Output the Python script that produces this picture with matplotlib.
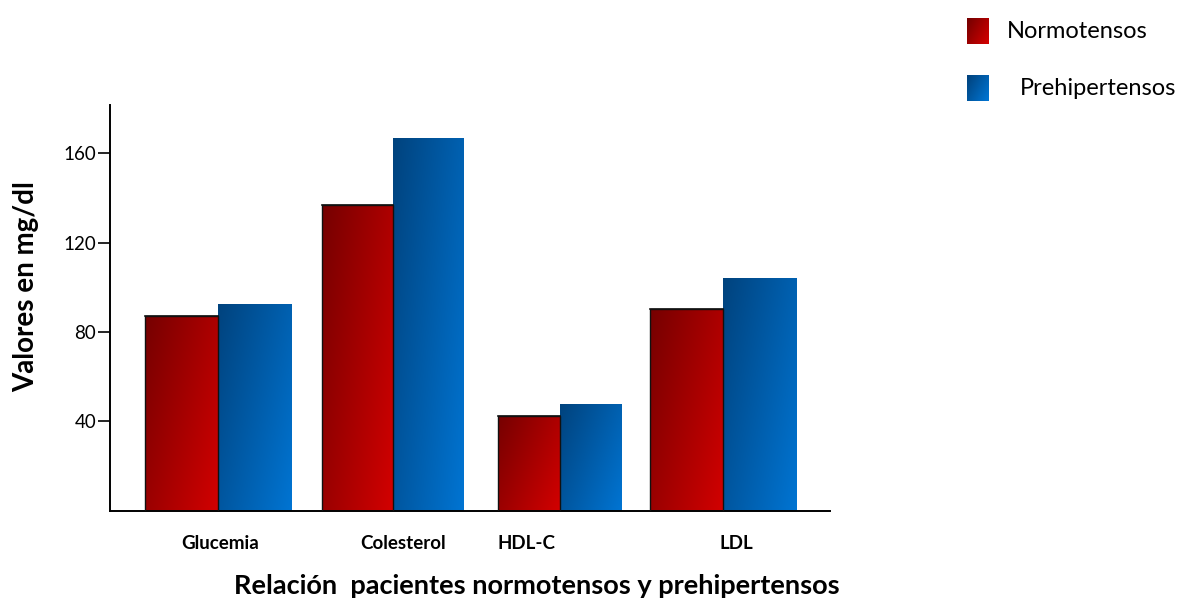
import numpy as np
import matplotlib

matplotlib.use("Agg")
import matplotlib.pyplot as plt
from matplotlib.colors import LinearSegmentedColormap
from matplotlib.patches import Rectangle

plt.rcParams["font.family"] = ["Lato", "DejaVu Sans"]

categorias = ["Glucemia", "Colesterol", "HDL-C", "LDL"]
normotensos = [87.2, 136.8, 42.5, 90.3]
prehipertensos = [92.5, 166.7, 47.8, 104.1]
series = ["Normotensos", "Prehipertensos"]
yticks = [40, 80, 120, 160]

# posición de cada grupo y ancho de sus barras (unidades de categoría)
centros = [0.0, 1.04, 2.03, 3.0]
anchos = [0.434, 0.42, 0.365, 0.434]
pos_etiquetas = [0.01, 1.10, 1.83, 3.08]

cmap_rojo = LinearSegmentedColormap.from_list("rojo", ["#760000", "#d20000"])
cmap_azul = LinearSegmentedColormap.from_list("azul", ["#00437e", "#0074d2"])


def gradiente(nx=40, ny=80):
    xx, yy = np.meshgrid(np.linspace(0, 1, nx), np.linspace(0, 1, ny))
    return 0.6 * xx + 0.4 * yy


def barra_degradada(ax, x0, ancho, alto, cmap, borde=None):
    rect = Rectangle((x0, 0), ancho, alto, facecolor="none",
                     edgecolor=borde or "none", lw=1.0, zorder=3)
    ax.add_patch(rect)
    im = ax.imshow(gradiente(), cmap=cmap, origin="upper", aspect="auto",
                   extent=[x0, x0 + ancho, 0, alto], zorder=2,
                   interpolation="bilinear")
    im.set_clip_path(rect)
    if borde:
        ax.plot([x0, x0 + ancho], [alto, alto], color=borde, lw=1.2, zorder=4)


fig = plt.figure(figsize=(11.83, 6.01), dpi=100)
ax = fig.add_axes([0.093, 0.1498, 0.6086, 0.6755])

for c, w, n, p in zip(centros, anchos, normotensos, prehipertensos):
    barra_degradada(ax, c - w, w, n, cmap_rojo, borde="#111111")
    barra_degradada(ax, c, w, p, cmap_azul)

ax.set_xlim(-0.642, 3.636)
ax.set_ylim(0, 181.5)

for s in ("top", "right"):
    ax.spines[s].set_visible(False)
for s in ("left", "bottom"):
    ax.spines[s].set_linewidth(1.4)
    ax.spines[s].set_color("black")

ax.set_yticks(yticks)
ax.set_yticklabels([str(v) for v in yticks], fontsize=13.5)
ax.tick_params(axis="y", length=9, width=1.2, pad=1)

ax.set_xticks(pos_etiquetas)
ax.set_xticklabels(categorias, fontsize=13.5, fontweight="bold")
ax.tick_params(axis="x", length=0, pad=17)

fig.text(26 / 1183, 1 - 287 / 601, "Valores en mg/dl", rotation=90,
         fontsize=20, fontweight="bold", ha="center", va="center")
fig.text(537 / 1183, 1 - 586 / 601,
         "Relación  pacientes normotensos y prehipertensos",
         fontsize=19.5, fontweight="bold", ha="center", va="center")

# leyenda con cuadros degradados
for k, (nombre, cmap) in enumerate(zip(series, (cmap_rojo, cmap_azul))):
    top = 0.97 - k * 0.095
    lax = fig.add_axes([0.8175, top - 0.043, 0.0185, 0.043])
    lax.imshow(gradiente(10, 10), cmap=cmap, aspect="auto",
               interpolation="bilinear")
    lax.set_axis_off()
    tx = 0.851 if k == 0 else 0.862
    fig.text(tx, top - 0.022, nombre, fontsize=17, va="center", ha="left")

fig.savefig("out.png", dpi=100)
